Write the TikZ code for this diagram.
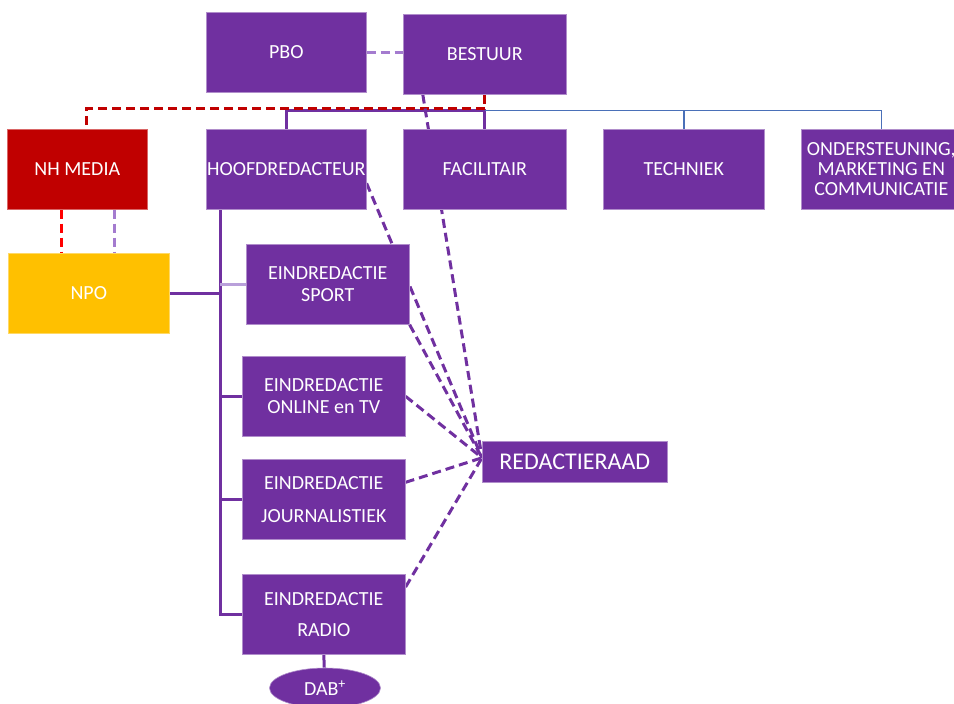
\documentclass[tikz,border=0pt]{standalone}
\usepackage{fontspec}
\setmainfont{Carlito}
\usetikzlibrary{shapes.geometric,backgrounds}
\definecolor{paars}{HTML}{7030A0}
\definecolor{lichtpaars}{HTML}{A47BCF}
\definecolor{bleekpaars}{HTML}{B9A0DA}
\definecolor{donkerrood}{HTML}{C00000}
\definecolor{goud}{HTML}{FFC000}
\definecolor{blauw}{HTML}{4A70B8}
\tikzset{
    blok/.style={anchor=north west,fill=paars,draw=paars!55!white,line width=0.6pt,text=white,
        minimum width=163pt,minimum height=80pt,inner sep=0pt,align=center,
        font=\fontsize{20}{22}\selectfont},
    lijn/.style={paars,line width=3pt},
    stippel/.style={line width=3pt,dash pattern=on 9pt off 5pt},
}
\begin{document}
\begin{tikzpicture}[x=1pt,y=-1pt]
                \useasboundingbox (0,0) rectangle (954,704);
                %% top
                \node[blok,minimum width=160pt] (pbo) at (206,12) {PBO};
                \node[blok] (bestuur) at (403,14) {BESTUUR};
                %% second row
                \node[blok,minimum width=140pt,fill=donkerrood,draw=donkerrood!60!white] (nhmedia) at (7,129) {NH MEDIA};
                \node[blok,minimum width=160pt] (hoofd) at (206,129) {HOOFDREDACTEUR};
                \node[blok] (facil) at (403,129) {FACILITAIR};
                \node[blok,minimum width=161pt] (techniek) at (603,129) {TECHNIEK};
                \node[blok,minimum width=160pt,font=\fontsize{20}{20}\selectfont] (onder) at (801,129) {ONDERSTEUNING,\\MARKETING EN\\COMMUNICATIE};
                %% left column
                \node[blok,minimum width=161pt,fill=goud,draw=goud!60!white] (npo) at (8,253) {NPO};
                \node[blok] (sport) at (246,244) {EINDREDACTIE\\SPORT};
                \node[blok] (online) at (242,356) {EINDREDACTIE\\ONLINE en TV};
                \node[blok] (journ) at (242,459) {EINDREDACTIE\\[11pt]JOURNALISTIEK};
                \node[blok] (radio) at (242,574) {EINDREDACTIE\\[9pt]RADIO};
                \node[blok,minimum width=185pt,minimum height=41pt,font=\fontsize{24}{26}\selectfont] (raad) at (482,441) {REDACTIERAAD};
                \node[ellipse,fill=paars,draw=paars!55!white,line width=0.6pt,text=white,minimum width=111pt,minimum height=40pt,
                    inner sep=0pt,font=\fontsize{20}{22}\selectfont] (dab) at (325,688) {DAB\textsuperscript{+}};
                \coordinate (tak) at ([yshift=-16pt]bestuur.south);
                \coordinate (spine) at ([xshift=-66pt]hoofd.south);
                \coordinate (raadin) at ([yshift=4pt]raad.west);
                \begin{pgfonlayer}{background}
                    %% hierarchy
                    \draw[lijn] (hoofd.north) -- (hoofd.north |- tak) -- (tak) -- (facil.north);
                    \draw[blauw,line width=1.5pt] (tak) -| (techniek.north);
                    \draw[blauw,line width=1.5pt] (tak) -| (onder.north);
                    \draw[stippel,donkerrood] (bestuur.south) -- ([yshift=2pt]tak) -| ([xshift=9pt]nhmedia.north);
                    \draw[stippel,lichtpaars] (pbo.east) -- (pbo.east -| bestuur.west);
                    %% left side
                    \draw[stippel,red] ([xshift=-16pt]nhmedia.south) -- ([xshift=-16pt]nhmedia.south |- npo.north);
                    \draw[stippel,lichtpaars] ([xshift=37pt]nhmedia.south) -- ([xshift=37pt]nhmedia.south |- npo.north);
                    \draw[lijn] (spine) |- (radio.west);
                    \foreach \n in {online,journ}
                        \draw[lijn] (\n.west) -- (\n.west -| spine);
                    \draw[bleekpaars,line width=3pt] (sport.west) -- (sport.west -| spine);
                    \draw[lijn] (npo.east) -- (npo.east -| spine);
                    \draw[lijn] (radio.south) -- (dab);
                    %% redactieraad
                    \draw[stippel,paars] ([xshift=-62pt]bestuur.south) -- (raadin);
                    \draw[stippel,paars] ([yshift=-14pt]hoofd.east) -- (raadin);
                    \draw[stippel,paars] (sport.south east) -- (raadin);
                    \draw[stippel,paars] (online.east) -- (raadin);
                    \draw[stippel,paars] ([yshift=17pt]journ.east) -- (raadin);
                    \draw[stippel,paars] ([yshift=-13pt]radio.north east) -- (raadin);
                \end{pgfonlayer}
            \end{tikzpicture}
\end{document}
